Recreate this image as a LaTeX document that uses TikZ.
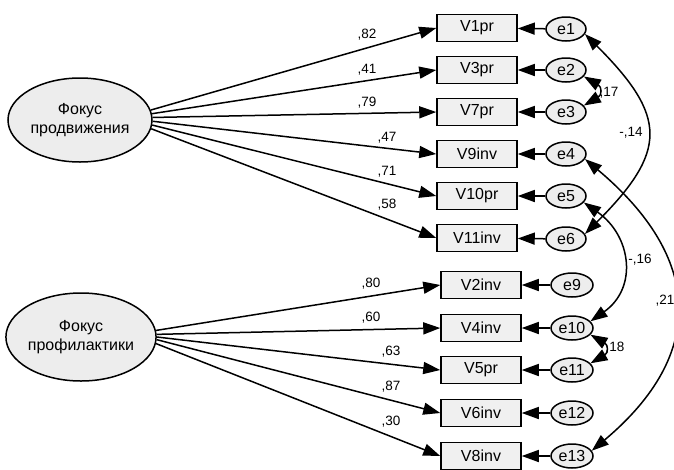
\documentclass[tikz,border=0pt]{standalone}
\usepackage{fontspec}
\setmainfont{Liberation Sans}
\usetikzlibrary{shapes.geometric,arrows.meta}

\begin{document}
\begin{tikzpicture}[x=1pt, y=1pt, line width=1.5pt,
	>={Triangle[length=17pt,width=12pt]},
	var/.style={draw, fill=gray!12, minimum width=80pt, minimum height=27pt, inner sep=0pt, font=\fontsize{16}{18}\selectfont},
	err/.style={draw, fill=gray!14, ellipse, minimum width=40pt, minimum height=24pt, inner sep=0pt, font=\fontsize{16}{18}\selectfont},
	lat/.style={draw, fill=gray!14, ellipse, minimum width=144pt, minimum height=84pt, inner sep=0pt, align=center, font=\fontsize{16}{19}\selectfont},
	coef/.style={inner sep=0pt, font=\fontsize{13.5}{15}\selectfont}]
		\useasboundingbox (0,0) rectangle (674,-469);
		\path
		(80,-120) node[lat] (P) {Фокус\\продвижения}
		(81,-337) node[lat, minimum height=88pt] (Q) {Фокус\\профилактики}
		
		(477,-28) node[var] (V1) {V1pr}
		(477,-70) node[var] (V3) {V3pr}
		(477,-112) node[var] (V7) {V7pr}
		(477,-154) node[var] (V9) {V9inv}
		(477,-196) node[var] (V10) {V10pr}
		(477,-238) node[var] (V11) {V11inv}
		
		(481,-285) node[var] (V2) {V2inv}
		(481,-328) node[var] (V4) {V4inv}
		(481,-370) node[var] (V5) {V5pr}
		(481,-413) node[var] (V6) {V6inv}
		(481,-456) node[var] (V8) {V8inv}
		
		(566,-29) node[err] (E1) {e1}
		(566,-70) node[err] (E2) {e2}
		(566,-112) node[err] (E3) {e3}
		(566,-154) node[err] (E4) {e4}
		(566,-196) node[err] (E5) {e5}
		(566,-239) node[err] (E6) {e6}
		
		(572,-285) node[err, minimum width=42pt] (E9) {e9}
		(572,-328) node[err, minimum width=42pt] (E10) {e10}
		(572,-370) node[err, minimum width=42pt] (E11) {e11}
		(572,-413) node[err, minimum width=42pt] (E12) {e12}
		(572,-456) node[err, minimum width=42pt] (E13) {e13}
		;
		\path
		(367,-35) node[coef] (k1) {,82}
		(367,-70) node[coef] (k2) {,41}
		(367,-103) node[coef] (k3) {,79}
		(387,-138) node[coef] (k4) {,47}
		(387,-172) node[coef] (k5) {,71}
		(387,-205) node[coef] (k6) {,58}
		
		(371,-284) node[coef] (k7) {,80}
		(371,-318) node[coef] (k8) {,60}
		(391,-352) node[coef] (k9) {,63}
		(391,-387) node[coef] (k10) {,87}
		(391,-422) node[coef] (k11) {,30}
		
		(609,-93) node[coef] (c1) {,17}
		(631,-133) node[coef] (c2) {-,14}
		(640,-260) node[coef] (c3) {-,16}
		(615,-348) node[coef] (c4) {,18}
		(665,-301) node[coef] (c5) {,21}
		;
		\draw[->] (P.8) -- (V1.west);
		\draw[->] (P.5) -- (V3.west);
		\draw[->] (P.2) -- (V7.west);
		\draw[->] (P.-1) -- (V9.west);
		\draw[->] (P.-4) -- (V10.west);
		\draw[->] (P.-7) -- (V11.west);
		
		\draw[->] (Q.5) -- (V2.west);
		\draw[->] (Q.2.5) -- (V4.west);
		\draw[->] (Q.0) -- (V5.west);
		\draw[->] (Q.-2.5) -- (V6.west);
		\draw[->] (Q.-5) -- (V8.west);
		
		\draw[->] (E1) -- (V1);
		\draw[->] (E2) -- (V3);
		\draw[->] (E3) -- (V7);
		\draw[->] (E4) -- (V9);
		\draw[->] (E5) -- (V10);
		\draw[->] (E6) -- (V11);
		\draw[->] (E9) -- (V2);
		\draw[->] (E10) -- (V4);
		\draw[->] (E11) -- (V5);
		\draw[->] (E12) -- (V6);
		\draw[->] (E13) -- (V8);
		
		\draw[<->] (E2.-20) to[out=-30, in=30, looseness=1.85] (E3.20);
		\draw[<->] (E1.-15) to[out=-45, in=45, looseness=1.5] (E6.15);
		\draw[<->] (E5.-20) to[out=-35, in=35, looseness=1.25] (E10.20);
		\draw[<->] (E10.-20) to[out=-30, in=30, looseness=1.85] (E11.20);
		\draw[<->] (E4.-15) to[out=-40, in=40, looseness=1.33] (E13.15);
	\end{tikzpicture}
\end{document}
